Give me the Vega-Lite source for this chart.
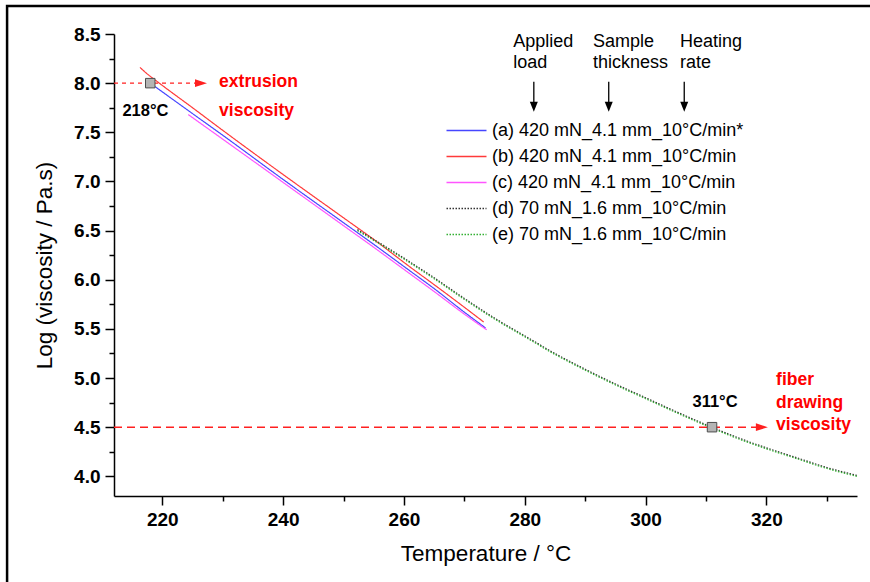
{
  "$schema": "https://vega.github.io/schema/vega-lite/v6.json",
  "width": 743,
  "height": 462,
  "autosize": "none",
  "padding": {"left": 114, "top": 34, "right": 13, "bottom": 86},
  "background": "white",
  "config": {
    "view": {"stroke": null},
    "font": "Liberation Sans",
    "axis": {
      "domainColor": "black", "domainWidth": 1.5, "tickColor": "black", "tickWidth": 1.5,
      "labelColor": "black", "labelFont": "Liberation Sans", "labelFontWeight": "bold", "labelFontSize": 19,
      "titleFont": "Liberation Sans", "titleFontWeight": "normal", "titleFontSize": 22.5, "titleColor": "black", "grid": false
    },
    "legend": {
      "orient": "none", "legendX": 341.5, "legendY": 85.5, "padding": 0,
      "symbolType": "M-2,0H2", "symbolSize": 400, "symbolStrokeWidth": 1.3,
      "labelFont": "Liberation Sans", "labelFontSize": 18, "labelColor": "black", "labelOffset": 14.5,
      "rowPadding": 6, "labelLimit": 400
    }
  },
  "datasets": {
    "curves": [
      {"series": "(a) 420 mN_4.1 mm_10°C/min*", "T": 218, "v": 8.00},
      {"series": "(a) 420 mN_4.1 mm_10°C/min*", "T": 225, "v": 7.69},
      {"series": "(a) 420 mN_4.1 mm_10°C/min*", "T": 230, "v": 7.47},
      {"series": "(a) 420 mN_4.1 mm_10°C/min*", "T": 240, "v": 7.02},
      {"series": "(a) 420 mN_4.1 mm_10°C/min*", "T": 250, "v": 6.58},
      {"series": "(a) 420 mN_4.1 mm_10°C/min*", "T": 255, "v": 6.36},
      {"series": "(a) 420 mN_4.1 mm_10°C/min*", "T": 261, "v": 6.09},
      {"series": "(a) 420 mN_4.1 mm_10°C/min*", "T": 265, "v": 5.91},
      {"series": "(a) 420 mN_4.1 mm_10°C/min*", "T": 270, "v": 5.67},
      {"series": "(a) 420 mN_4.1 mm_10°C/min*", "T": 273.5, "v": 5.51},
      {"series": "(b) 420 mN_4.1 mm_10°C/min", "T": 216.3, "v": 8.16},
      {"series": "(b) 420 mN_4.1 mm_10°C/min", "T": 217.2, "v": 8.11},
      {"series": "(b) 420 mN_4.1 mm_10°C/min", "T": 219.5, "v": 8.00},
      {"series": "(b) 420 mN_4.1 mm_10°C/min", "T": 225, "v": 7.75},
      {"series": "(b) 420 mN_4.1 mm_10°C/min", "T": 230, "v": 7.52},
      {"series": "(b) 420 mN_4.1 mm_10°C/min", "T": 240, "v": 7.07},
      {"series": "(b) 420 mN_4.1 mm_10°C/min", "T": 250, "v": 6.63},
      {"series": "(b) 420 mN_4.1 mm_10°C/min", "T": 255, "v": 6.41},
      {"series": "(b) 420 mN_4.1 mm_10°C/min", "T": 261, "v": 6.13},
      {"series": "(b) 420 mN_4.1 mm_10°C/min", "T": 265, "v": 5.95},
      {"series": "(b) 420 mN_4.1 mm_10°C/min", "T": 270, "v": 5.72},
      {"series": "(b) 420 mN_4.1 mm_10°C/min", "T": 273.2, "v": 5.57},
      {"series": "(c) 420 mN_4.1 mm_10°C/min", "T": 224.3, "v": 7.68},
      {"series": "(c) 420 mN_4.1 mm_10°C/min", "T": 230, "v": 7.43},
      {"series": "(c) 420 mN_4.1 mm_10°C/min", "T": 240, "v": 6.99},
      {"series": "(c) 420 mN_4.1 mm_10°C/min", "T": 250, "v": 6.55},
      {"series": "(c) 420 mN_4.1 mm_10°C/min", "T": 255, "v": 6.33},
      {"series": "(c) 420 mN_4.1 mm_10°C/min", "T": 261, "v": 6.06},
      {"series": "(c) 420 mN_4.1 mm_10°C/min", "T": 265, "v": 5.88},
      {"series": "(c) 420 mN_4.1 mm_10°C/min", "T": 270, "v": 5.65},
      {"series": "(c) 420 mN_4.1 mm_10°C/min", "T": 273.7, "v": 5.49},
      {"series": "(d) 70 mN_1.6 mm_10°C/min", "T": 252.3, "v": 6.51},
      {"series": "(d) 70 mN_1.6 mm_10°C/min", "T": 255, "v": 6.41},
      {"series": "(d) 70 mN_1.6 mm_10°C/min", "T": 260, "v": 6.22},
      {"series": "(d) 70 mN_1.6 mm_10°C/min", "T": 265, "v": 6.02},
      {"series": "(d) 70 mN_1.6 mm_10°C/min", "T": 270, "v": 5.81},
      {"series": "(d) 70 mN_1.6 mm_10°C/min", "T": 275, "v": 5.61},
      {"series": "(d) 70 mN_1.6 mm_10°C/min", "T": 280, "v": 5.43},
      {"series": "(d) 70 mN_1.6 mm_10°C/min", "T": 285, "v": 5.25},
      {"series": "(d) 70 mN_1.6 mm_10°C/min", "T": 290, "v": 5.09},
      {"series": "(d) 70 mN_1.6 mm_10°C/min", "T": 295, "v": 4.94},
      {"series": "(d) 70 mN_1.6 mm_10°C/min", "T": 300, "v": 4.80},
      {"series": "(d) 70 mN_1.6 mm_10°C/min", "T": 305, "v": 4.66},
      {"series": "(d) 70 mN_1.6 mm_10°C/min", "T": 311, "v": 4.50},
      {"series": "(d) 70 mN_1.6 mm_10°C/min", "T": 315, "v": 4.40},
      {"series": "(d) 70 mN_1.6 mm_10°C/min", "T": 320, "v": 4.29},
      {"series": "(d) 70 mN_1.6 mm_10°C/min", "T": 325, "v": 4.19},
      {"series": "(d) 70 mN_1.6 mm_10°C/min", "T": 330, "v": 4.09},
      {"series": "(d) 70 mN_1.6 mm_10°C/min", "T": 335, "v": 4.01},
      {"series": "(e) 70 mN_1.6 mm_10°C/min", "T": 252.3, "v": 6.50},
      {"series": "(e) 70 mN_1.6 mm_10°C/min", "T": 255, "v": 6.40},
      {"series": "(e) 70 mN_1.6 mm_10°C/min", "T": 260, "v": 6.21},
      {"series": "(e) 70 mN_1.6 mm_10°C/min", "T": 265, "v": 6.01},
      {"series": "(e) 70 mN_1.6 mm_10°C/min", "T": 270, "v": 5.80},
      {"series": "(e) 70 mN_1.6 mm_10°C/min", "T": 275, "v": 5.60},
      {"series": "(e) 70 mN_1.6 mm_10°C/min", "T": 280, "v": 5.42},
      {"series": "(e) 70 mN_1.6 mm_10°C/min", "T": 285, "v": 5.24},
      {"series": "(e) 70 mN_1.6 mm_10°C/min", "T": 290, "v": 5.08},
      {"series": "(e) 70 mN_1.6 mm_10°C/min", "T": 295, "v": 4.93},
      {"series": "(e) 70 mN_1.6 mm_10°C/min", "T": 300, "v": 4.79},
      {"series": "(e) 70 mN_1.6 mm_10°C/min", "T": 305, "v": 4.65},
      {"series": "(e) 70 mN_1.6 mm_10°C/min", "T": 311, "v": 4.49},
      {"series": "(e) 70 mN_1.6 mm_10°C/min", "T": 315, "v": 4.39},
      {"series": "(e) 70 mN_1.6 mm_10°C/min", "T": 320, "v": 4.28},
      {"series": "(e) 70 mN_1.6 mm_10°C/min", "T": 325, "v": 4.18},
      {"series": "(e) 70 mN_1.6 mm_10°C/min", "T": 330, "v": 4.08},
      {"series": "(e) 70 mN_1.6 mm_10°C/min", "T": 335, "v": 4.00}
    ],
    "markers": [{"T": 218, "v": 8.0}, {"T": 311, "v": 4.5}],
    "notes": [
      {"kind": "red", "T": 229.4, "v": 8.01, "text": "extrusion"},
      {"kind": "red", "T": 229.4, "v": 7.72, "text": "viscosity"},
      {"kind": "red", "T": 321.6, "v": 4.98, "text": "fiber"},
      {"kind": "red", "T": 321.6, "v": 4.75, "text": "drawing"},
      {"kind": "red", "T": 321.6, "v": 4.52, "text": "viscosity"},
      {"kind": "temp", "T": 217.2, "v": 7.72, "text": "218°C"},
      {"kind": "temp", "T": 311.5, "v": 4.76, "text": "311°C"},
      {"kind": "head", "T": 278.1, "v": 8.42, "text": "Applied"},
      {"kind": "head", "T": 278.1, "v": 8.20, "text": "load"},
      {"kind": "head", "T": 291.3, "v": 8.42, "text": "Sample"},
      {"kind": "head", "T": 291.3, "v": 8.20, "text": "thickness"},
      {"kind": "head", "T": 305.7, "v": 8.42, "text": "Heating"},
      {"kind": "head", "T": 305.7, "v": 8.20, "text": "rate"}
    ],
    "arrows": [{"T": 281.5}, {"T": 293.9}, {"T": 306.4}]
  },
  "layer": [
    {
      "data": {"values": [{"T1": 212, "T2": 226, "v": 8.0}]},
      "mark": {"type": "rule", "color": "#ff2020", "strokeWidth": 1.2, "strokeDash": [4, 4]},
      "encoding": {
        "x": {"field": "T1", "type": "quantitative", "axis": null},
        "x2": {"field": "T2"},
        "y": {"field": "v", "type": "quantitative", "axis": null}
      }
    },
    {
      "data": {"values": [{"T1": 212, "T2": 318.5, "v": 4.5}]},
      "mark": {"type": "rule", "color": "#ff2020", "strokeWidth": 1.5, "strokeDash": [8, 5]},
      "encoding": {
        "x": {"field": "T1", "type": "quantitative", "axis": null},
        "x2": {"field": "T2"},
        "y": {"field": "v", "type": "quantitative", "axis": null}
      }
    },
    {
      "data": {"values": [{"T": 226.4, "v": 8.0}, {"T": 319.25, "v": 4.5}]},
      "mark": {"type": "point", "shape": "M-1,-0.65L1,0L-1,0.65Z", "size": 144, "filled": true, "color": "#ff2020", "opacity": 1},
      "encoding": {
        "x": {"field": "T", "type": "quantitative", "axis": null},
        "y": {"field": "v", "type": "quantitative", "axis": null}
      }
    },
    {
      "data": {"name": "curves"},
      "mark": {"type": "line", "strokeWidth": 1.2, "interpolate": "monotone"},
      "encoding": {
        "x": {
          "field": "T", "type": "quantitative",
          "scale": {"domain": [212, 335], "nice": false, "zero": false},
          "axis": {"orient": "bottom", "values": [220, 240, 260, 280, 300, 320], "tickSize": 9, "labelPadding": 5, "title": "Temperature / °C", "titlePadding": 13}
        },
        "y": {
          "field": "v", "type": "quantitative",
          "scale": {"domain": [3.8, 8.5], "nice": false, "zero": false},
          "axis": {"orient": "left", "values": [4.0, 4.5, 5.0, 5.5, 6.0, 6.5, 7.0, 7.5, 8.0, 8.5], "format": ".1f", "tickSize": 9, "labelPadding": 5, "title": "Log (viscosity / Pa.s)", "titlePadding": 17}
        },
        "color": {
          "field": "series", "type": "nominal",
          "scale": {
            "domain": ["(a) 420 mN_4.1 mm_10°C/min*", "(b) 420 mN_4.1 mm_10°C/min", "(c) 420 mN_4.1 mm_10°C/min", "(d) 70 mN_1.6 mm_10°C/min", "(e) 70 mN_1.6 mm_10°C/min"],
            "range": ["#4646ff", "#ff3a3a", "#ff55ff", "#333333", "#33b033"]
          },
          "legend": {"title": null}
        },
        "strokeDash": {
          "field": "series", "type": "nominal",
          "scale": {
            "domain": ["(a) 420 mN_4.1 mm_10°C/min*", "(b) 420 mN_4.1 mm_10°C/min", "(c) 420 mN_4.1 mm_10°C/min", "(d) 70 mN_1.6 mm_10°C/min", "(e) 70 mN_1.6 mm_10°C/min"],
            "range": [[1, 0], [1, 0], [1, 0], [1.5, 1.5], [1.5, 1.5]]
          },
          "legend": {"title": null}
        }
      }
    },
    {
      "data": {"name": "markers"},
      "mark": {"type": "point", "shape": "square", "size": 90, "filled": true, "fill": "#b4b4b4", "stroke": "#4d4d4d", "strokeWidth": 1, "opacity": 1},
      "encoding": {
        "x": {"field": "T", "type": "quantitative",
          "axis": {"orient": "bottom", "values": [230, 250, 270, 290, 310, 330], "tickSize": 5, "labels": false, "domain": false, "title": null}},
        "y": {"field": "v", "type": "quantitative",
          "axis": {"orient": "left", "values": [4.25, 4.75, 5.25, 5.75, 6.25, 6.75, 7.25, 7.75, 8.25], "tickSize": 5, "labels": false, "domain": false, "title": null}}
      }
    },
    {
      "data": {"name": "notes"},
      "transform": [{"filter": "datum.kind === 'red'"}],
      "mark": {"type": "text", "align": "left", "baseline": "middle", "color": "#ff0000", "fontWeight": "bold", "fontSize": 17.5, "font": "Liberation Sans"},
      "encoding": {
        "x": {"field": "T", "type": "quantitative", "axis": null},
        "y": {"field": "v", "type": "quantitative", "axis": null},
        "text": {"field": "text"}
      }
    },
    {
      "data": {"name": "notes"},
      "transform": [{"filter": "datum.kind === 'temp'"}],
      "mark": {"type": "text", "align": "center", "baseline": "middle", "color": "black", "fontWeight": "bold", "fontSize": 16.5, "font": "Liberation Sans"},
      "encoding": {
        "x": {"field": "T", "type": "quantitative", "axis": null},
        "y": {"field": "v", "type": "quantitative", "axis": null},
        "text": {"field": "text"}
      }
    },
    {
      "data": {"name": "notes"},
      "transform": [{"filter": "datum.kind === 'head'"}],
      "mark": {"type": "text", "align": "left", "baseline": "middle", "color": "black", "fontSize": 18, "font": "Liberation Sans"},
      "encoding": {
        "x": {"field": "T", "type": "quantitative", "axis": null},
        "y": {"field": "v", "type": "quantitative", "axis": null},
        "text": {"field": "text"}
      }
    },
    {
      "data": {"name": "arrows"},
      "mark": {"type": "rule", "color": "black", "strokeWidth": 1.3},
      "encoding": {
        "x": {"field": "T", "type": "quantitative", "axis": null},
        "y": {"datum": 8.014, "type": "quantitative", "axis": null},
        "y2": {"datum": 7.76}
      }
    },
    {
      "data": {"name": "arrows"},
      "mark": {"type": "point", "shape": "M-0.8,-1L0.8,-1L0,1Z", "size": 100, "filled": true, "color": "black", "opacity": 1},
      "encoding": {
        "x": {"field": "T", "type": "quantitative", "axis": null},
        "y": {"datum": 7.76, "type": "quantitative", "axis": null}
      }
    },
    {
      "data": {"values": [{"a": 1}]},
      "mark": {"type": "rect", "fill": null, "fillOpacity": 0, "stroke": "black", "strokeWidth": 2.5, "clip": false},
      "encoding": {
        "x": {"datum": 194.3, "type": "quantitative", "axis": null},
        "x2": {"datum": 345},
        "y": {"datum": 8.785, "type": "quantitative", "axis": null},
        "y2": {"datum": 2.0}
      }
    }
  ],
  "resolve": {"axis": {"x": "independent", "y": "independent"}}
}
